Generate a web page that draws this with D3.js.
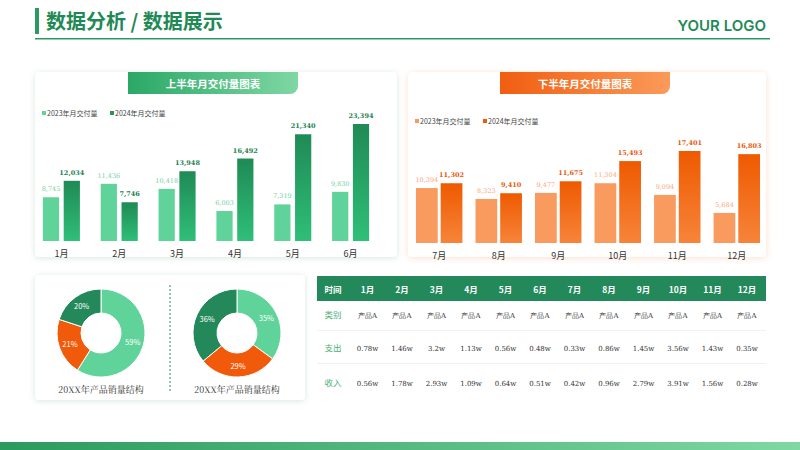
<!DOCTYPE html>
<html><head><meta charset="utf-8">
<script src="https://cdn.jsdelivr.net/npm/d3@7"></script>
<style>body{margin:0;background:#fff}svg{display:block;font-family:"Noto Sans CJK SC","Noto Sans",sans-serif}</style>
</head><body><svg id="chart" width="800" height="450"></svg>
<script>
// data
var months1 = ["1月","2月","3月","4月","5月","6月"];
var h1_2023 = [8745,11436,10418,6003,7319,9830];
var h1_2024 = [12034,7746,13948,16492,21340,23394];
var months2 = ["7月","8月","9月","10月","11月","12月"];
var h2_2023 = [10394,8323,9477,11304,9094,5684];
var h2_2024 = [11302,9410,11675,15493,17401,16803];
var pie1 = [59,21,20];
var pie2 = [35,29,36];
var tblMonths = ["1月","2月","3月","4月","5月","6月","7月","8月","9月","10月","11月","12月"];
var tblCategory = ["产品A","产品A","产品A","产品A","产品A","产品A","产品A","产品A","产品A","产品A","产品A","产品A"];
var tblCost = ["0.78w","1.46w","3.2w","1.13w","0.56w","0.48w","0.33w","0.86w","1.45w","3.56w","1.43w","0.35w"];
var tblIncome = ["0.56w","1.78w","2.93w","1.09w","0.64w","0.51w","0.42w","0.96w","2.79w","3.91w","1.56w","0.28w"];

var svg = d3.select("#chart");
var defs = svg.append("defs");
function grad(id, c1, c2, x) {
  var g = defs.append("linearGradient").attr("id", id)
    .attr("x1", 0).attr("y1", 0).attr("x2", x ? 1 : 0).attr("y2", x ? 0 : 1);
  g.append("stop").attr("offset", "0%").attr("stop-color", c1);
  g.append("stop").attr("offset", "100%").attr("stop-color", c2);
}
grad("gDark", "#1f8a55", "#2fbf78");
grad("oDark", "#ee5a00", "#f7843a");
grad("gPill", "#2aa866", "#7fd7a4", true);
grad("oPill", "#f05e10", "#fb9a5a", true);
grad("foot", "#2a9a5e", "#7fd8a4", true);
var sh = defs.append("filter").attr("id", "sh").attr("x", -0.1).attr("y", -0.1).attr("width", 1.2).attr("height", 1.3);
sh.append("feDropShadow").attr("dx", 0).attr("dy", 1).attr("stdDeviation", 3).attr("flood-color", "#8fb8a0").attr("flood-opacity", 0.35);
var shO = defs.append("filter").attr("id", "shO").attr("x", -0.1).attr("y", -0.1).attr("width", 1.2).attr("height", 1.3);
shO.append("feDropShadow").attr("dx", 0).attr("dy", 1).attr("stdDeviation", 3).attr("flood-color", "#f5a070").attr("flood-opacity", 0.35);

// header
svg.append("rect").attr("x", 35).attr("y", 8).attr("width", 4).attr("height", 26).attr("fill", "#2a9a5e");
svg.append("text").attr("x", 46).attr("y", 29).attr("font-size", 20).attr("font-weight", 700).attr("fill", "#1f8a55").text("数据分析 / 数据展示");
svg.append("text").attr("x", 766).attr("y", 31).attr("text-anchor", "end").attr("font-size", 15).attr("font-weight", 600)
  .attr("font-family", "Inter,sans-serif").attr("fill", "#1f8a55").text("YOUR LOGO");
svg.append("rect").attr("x", 35).attr("y", 38).attr("width", 735).attr("height", 1.5).attr("fill", "#2a9a5e");
svg.append("rect").attr("x", 0).attr("y", 442).attr("width", 800).attr("height", 8).attr("fill", "url(#foot)");

function barPanel(o) {
  var g = svg.append("g");
  g.append("rect").attr("x", o.x).attr("y", o.y).attr("width", o.w).attr("height", o.h).attr("rx", 4)
    .attr("fill", "#fff").attr("filter", o.filt);
  g.append("path").attr("d", "M" + o.px + "," + o.y + "h170v14a8,8 0 0 1 -8,8h-162z").attr("fill", o.pill);
  g.append("text").attr("x", o.px + 85).attr("y", o.y + 15.5).attr("text-anchor", "middle").attr("font-size", 10.5)
    .attr("font-weight", 700).attr("fill", "#fff").text(o.title);
  [0, 1].forEach(function (i) {
    var lx = o.x + 7 + i * 68;
    g.append("rect").attr("x", lx).attr("y", o.ly - 5).attr("width", 4).attr("height", 4).attr("fill", i ? o.c2 : o.c1);
    g.append("text").attr("x", lx + 5).attr("y", o.ly).attr("font-size", 7).attr("fill", "#444")
      .text(i ? "2024年月交付量" : "2023年月交付量");
  });
  var x = d3.scaleBand().domain(o.cats).range(o.xr).paddingInner(o.pin).paddingOuter(0.05);
  var xs = d3.scaleBand().domain([0, 1]).range([0, x.bandwidth()]).paddingInner(o.pbar);
  var y = d3.scaleLinear().domain([0, o.max]).range([o.base, o.top]);
  o.cats.forEach(function (c, i) {
    [[o.a, o.c1, o.t1, 400], [o.b, "url(#" + o.gid + ")", o.t2, 600]].forEach(function (s, k) {
      var bx = x(c) + xs(k);
      g.append("rect").attr("x", bx).attr("y", y(s[0][i])).attr("width", xs.bandwidth())
        .attr("height", o.base - y(s[0][i])).attr("fill", s[1]);
      g.append("text").attr("x", bx + xs.bandwidth() / 2).attr("y", y(s[0][i]) - 6).attr("text-anchor", "middle")
        .attr("font-size", 6.5).attr("font-weight", s[3]).attr("font-family", "'DejaVu Serif',serif").attr("fill", s[2])
        .text(d3.format(",")(s[0][i]));
    });
    g.append("text").attr("x", x(c) + x.bandwidth() / 2).attr("y", o.base + 16).attr("text-anchor", "middle")
      .attr("font-size", 9).attr("fill", "#333").text(c);
  });
}
barPanel({x: 35, y: 72, w: 362, h: 185, px: 128, pill: "url(#gPill)", title: "上半年月交付量图表", filt: "url(#sh)",
  ly: 116, cats: months1, a: h1_2023, b: h1_2024, c1: "#5fd39a", c2: "#23985a", gid: "gDark",
  t1: "#6fd4a2", t2: "#23804f", xr: [40, 372], max: 23394, base: 241, top: 124, pin: 0.36, pbar: 0.22});
barPanel({x: 408, y: 72, w: 358, h: 185, px: 500, pill: "url(#oPill)", title: "下半年月交付量图表", filt: "url(#shO)",
  ly: 124, cats: months2, a: h2_2023, b: h2_2024, c1: "#f99a5e", c2: "#f05a0a", gid: "oDark",
  t1: "#f7a77a", t2: "#e8590c", xr: [413, 763], max: 17401, base: 243, top: 151, pin: 0.22, pbar: 0.12});

// donuts
svg.append("rect").attr("x", 35).attr("y", 275).attr("width", 270).attr("height", 125).attr("rx", 4)
  .attr("fill", "#fff").attr("filter", "url(#sh)");
svg.append("line").attr("x1", 170).attr("x2", 170).attr("y1", 285).attr("y2", 393)
  .attr("stroke", "#2a8a55").attr("stroke-dasharray", "2,2");
var pieCols = ["#5fd39a", "#f05a0a", "#23895a"];
var pie = d3.pie().sort(null);
var arc = d3.arc().innerRadius(20).outerRadius(44);
[[pie1, 101], [pie2, 237]].forEach(function (p) {
  var g = svg.append("g").attr("transform", "translate(" + p[1] + ",333)");
  var arcs = pie(p[0]);
  g.selectAll("path").data(arcs).enter().append("path").attr("d", arc)
    .attr("fill", function (d, i) { return pieCols[i]; }).attr("stroke", "#fff").attr("stroke-width", 1);
  var lab = d3.arc().innerRadius(33).outerRadius(33);
  g.selectAll("text").data(arcs).enter().append("text")
    .attr("transform", function (d) { return "translate(" + lab.centroid(d) + ")"; })
    .attr("text-anchor", "middle").attr("dy", "0.35em").attr("font-size", 7.5).attr("fill", "#fff")
    .text(function (d) { return d.data + "%"; });
  svg.append("text").attr("x", p[1]).attr("y", 393).attr("text-anchor", "middle").attr("font-size", 9)
    .attr("font-family", "'Noto Serif CJK SC','DejaVu Serif',serif").attr("fill", "#333").text("20XX年产品销量结构");
});

// table
var tx = d3.scalePoint().domain(d3.range(13)).range([333, 747]);
svg.append("rect").attr("x", 317).attr("y", 276).attr("width", 449).attr("height", 25).attr("fill", "#23895a");
["时间"].concat(tblMonths).forEach(function (t, i) {
  svg.append("text").attr("x", tx(i)).attr("y", 293).attr("text-anchor", "middle").attr("font-size", 8.5)
    .attr("font-weight", 700).attr("fill", "#fff").text(t);
});
[[tblCategory, "类别", 318], [tblCost, "支出", 351], [tblIncome, "收入", 386]].forEach(function (r, k) {
  svg.append("text").attr("x", tx(0)).attr("y", r[2]).attr("text-anchor", "middle").attr("font-size", 8.5)
    .attr("fill", "#4cae7a").text(r[1]);
  r[0].forEach(function (v, i) {
    svg.append("text").attr("x", tx(i + 1)).attr("y", r[2]).attr("text-anchor", "middle").attr("font-size", 7)
      .attr("font-family", "'DejaVu Serif',serif").attr("fill", "#333").text(v);
  });
  if (k < 2) svg.append("rect").attr("x", 317).attr("y", r[2] + 12).attr("width", 449).attr("height", 1).attr("fill", "#eef3f0");
});
</script></body></html>
